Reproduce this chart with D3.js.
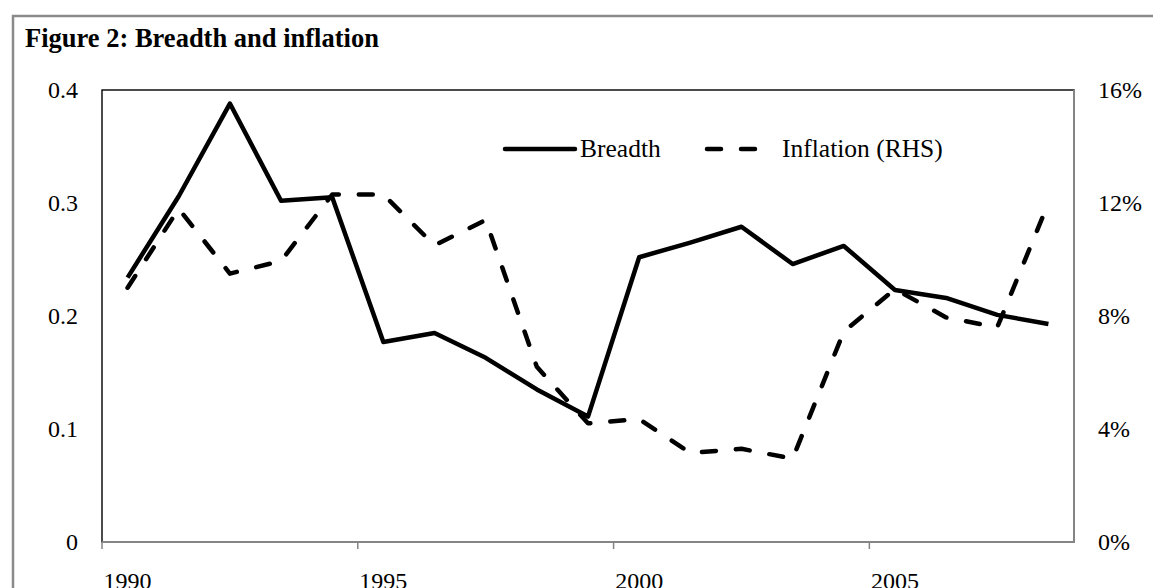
<html>
  <head>
    <script src="https://cdn.jsdelivr.net/npm/d3@7"></script>
    <style>
      body {
        margin: 0;
        background-color: #ffffff;
      }
      text {
        font-family: "Liberation Serif", "DejaVu Serif", serif;
        fill: #000;
      }
    </style>
  </head>
  <body>
    <script>
      // data
      const years = [1990, 1991, 1992, 1993, 1994, 1995, 1996, 1997, 1998, 1999,
                     2000, 2001, 2002, 2003, 2004, 2005, 2006, 2007, 2008];
      const breadth = [0.234, 0.306, 0.388, 0.302, 0.305, 0.177, 0.185, 0.163, 0.135, 0.111,
                       0.252, 0.265, 0.279, 0.246, 0.262, 0.223, 0.216, 0.201, 0.193];
      const inflation = [9.0, 11.8, 9.5, 9.95, 12.3, 12.3, 10.5, 11.4, 6.2, 4.2,
                         4.35, 3.15, 3.3, 2.95, 7.45, 8.95, 7.95, 7.6, 12.0];
      const leftTicks = [0, 0.1, 0.2, 0.3, 0.4];
      const rightTicks = [0, 4, 8, 12, 16];
      const yearLabels = [1990, 1995, 2000, 2005];

      const width = 1153, height = 588;
      const plot = { left: 102, right: 1074, top: 90, bottom: 542 };

      const svg = d3.select("body")
          .append("svg")
          .attr("width", width)
          .attr("height", height);

      // outer frame (runs off the right and bottom of the picture)
      svg.append("path")
          .attr("d", `M13,${height + 5} L13,16 L${width + 5},16`)
          .attr("fill", "none")
          .attr("stroke", "#8a8a8a")
          .attr("stroke-width", 2.5);

      svg.append("text")
          .attr("x", 25)
          .attr("y", 47)
          .style("font-size", "26.5px")
          .style("font-weight", "bold")
          .text("Figure 2: Breadth and inflation");

      const x = d3.scaleBand()
          .domain(years)
          .range([plot.left, plot.right])
          .padding(0);
      const cx = d => x(d) + x.bandwidth() / 2;

      const yL = d3.scaleLinear().domain([0, 0.4]).range([plot.bottom, plot.top]);
      const yR = d3.scaleLinear().domain([0, 16]).range([plot.bottom, plot.top]);

      // plot area box
      svg.append("rect")
          .attr("x", plot.left)
          .attr("y", plot.top)
          .attr("width", plot.right - plot.left)
          .attr("height", plot.bottom - plot.top)
          .attr("fill", "none")
          .attr("stroke", "#000")
          .attr("stroke-width", 1.4);

      // gray category axis and right border
      svg.append("path")
          .attr("d", `M${plot.left},${plot.bottom} L${plot.right},${plot.bottom} L${plot.right},${plot.top}`)
          .attr("fill", "none")
          .attr("stroke", "#858585")
          .attr("stroke-width", 2);

      svg.selectAll(".xtick")
          .data(yearLabels)
          .enter().append("line")
          .attr("x1", d => x(d))
          .attr("x2", d => x(d))
          .attr("y1", plot.bottom)
          .attr("y2", plot.bottom + 7)
          .attr("stroke", "#858585")
          .attr("stroke-width", 1.5);

      svg.selectAll(".xlabel")
          .data(yearLabels)
          .enter().append("text")
          .attr("x", d => cx(d))
          .attr("y", 589)
          .attr("text-anchor", "middle")
          .style("font-size", "24px")
          .text(d => d);

      svg.selectAll(".ylabel")
          .data(leftTicks)
          .enter().append("text")
          .attr("x", 78)
          .attr("y", d => yL(d))
          .attr("dy", "0.35em")
          .attr("text-anchor", "end")
          .style("font-size", "24px")
          .text(d => d === 0 ? "0" : d3.format(".1f")(d));

      svg.selectAll(".rlabel")
          .data(rightTicks)
          .enter().append("text")
          .attr("x", 1098)
          .attr("y", d => yR(d))
          .attr("dy", "0.35em")
          .attr("text-anchor", "start")
          .style("font-size", "24px")
          .text(d => d + "%");

      const dash = "14,20";

      const lineL = d3.line()
          .x((d, i) => cx(years[i]))
          .y(d => yL(d));
      const lineR = d3.line()
          .x((d, i) => cx(years[i]))
          .y(d => yR(d));

      svg.append("path")
          .datum(inflation)
          .attr("fill", "none")
          .attr("stroke", "#000")
          .attr("stroke-width", 4.5)
          .attr("stroke-linecap", "round")
          .attr("stroke-linejoin", "round")
          .attr("stroke-dasharray", dash)
          .attr("d", lineR);

      svg.append("path")
          .datum(breadth)
          .attr("fill", "none")
          .attr("stroke", "#000")
          .attr("stroke-width", 4.5)
          .attr("stroke-linejoin", "round")
          .attr("d", lineL);

      // legend
      const legend = svg.append("g");
      legend.append("line")
          .attr("x1", 505).attr("x2", 575)
          .attr("y1", 149).attr("y2", 149)
          .attr("stroke", "#000")
          .attr("stroke-width", 4.5)
          .attr("stroke-linecap", "round");
      legend.append("text")
          .attr("x", 580)
          .attr("y", 157)
          .style("font-size", "25.5px")
          .text("Breadth");
      legend.append("line")
          .attr("x1", 707).attr("x2", 756)
          .attr("y1", 149).attr("y2", 149)
          .attr("stroke", "#000")
          .attr("stroke-width", 4.5)
          .attr("stroke-linecap", "round")
          .attr("stroke-dasharray", dash);
      legend.append("text")
          .attr("x", 782)
          .attr("y", 157)
          .style("font-size", "25.5px")
          .text("Inflation (RHS)");
    </script>
  </body>
</html>
